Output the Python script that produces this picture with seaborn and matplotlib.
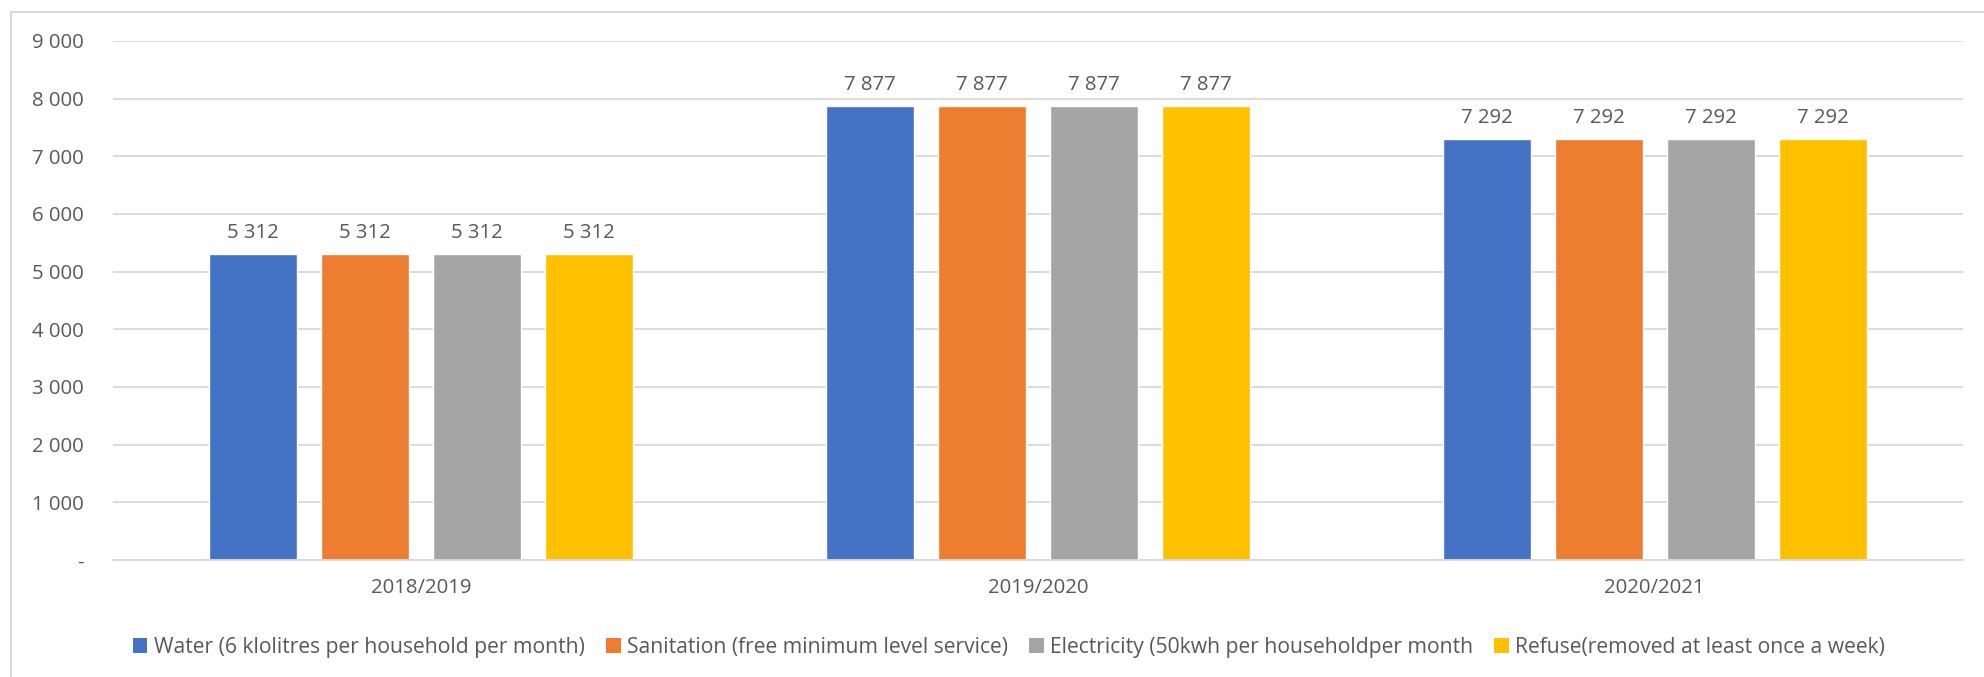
import matplotlib
matplotlib.use("Agg")
import matplotlib.pyplot as plt
import seaborn as sns
import pandas as pd
from matplotlib.patches import Patch
from matplotlib.lines import Line2D
from matplotlib.ticker import FuncFormatter, MultipleLocator

years = ["2018/2019", "2019/2020", "2020/2021"]
services = [
    "Water (6 klolitres per household per month)",
    "Sanitation (free minimum level service)",
    "Electricity (50kwh per householdper month",
    "Refuse(removed at least once a week)",
]
water = [5312, 7877, 7292]
sanitation = [5312, 7877, 7292]
electricity = [5312, 7877, 7292]
refuse = [5312, 7877, 7292]
colors = ["#4472C4", "#ED7D31", "#A5A5A5", "#FFC000"]

series = [water, sanitation, electricity, refuse]
rows = []
for name, vals in zip(services, series):
    for y, v in zip(years, vals):
        rows.append({"year": y, "service": name, "value": v})
df = pd.DataFrame(rows)

sns.set_theme(style="white")
plt.rcParams["font.family"] = ["Open Sans", "DejaVu Sans"]
TXT = "#595959"
GRID = "#d9d9d9"
FS = 14.7
LFS = 15.2

fig = plt.figure(figsize=(19.84, 6.77), dpi=100)
ax = fig.add_axes([113 / 1984, 1 - 560 / 677, (1963 - 113) / 1984, (560 - 41) / 677])

sns.barplot(data=df, x="year", y="value", hue="service", order=years,
            hue_order=services, palette=colors, width=0.7264, gap=0.214,
            saturation=1, ax=ax, legend=False)

def fmt(v):
    v = int(round(v))
    if v == 0:
        return "-"
    return f"{v:,}".replace(",", " ")

for cont in ax.containers:
    ax.bar_label(cont, labels=[fmt(b.get_height()) for b in cont],
                 padding=8, fontsize=FS, color=TXT)

ax.set_ylim(0, 9000)
ax.yaxis.set_major_locator(MultipleLocator(1000))
ax.yaxis.set_major_formatter(FuncFormatter(lambda v, p: fmt(v)))
ax.set_xlabel("")
ax.set_ylabel("")
ax.grid(axis="y", color=GRID, linewidth=1.3)
ax.set_axisbelow(True)
for s in ["top", "right", "left"]:
    ax.spines[s].set_visible(False)
ax.spines["bottom"].set_color(GRID)
ax.spines["bottom"].set_linewidth(1.3)
ax.tick_params(axis="y", length=0, pad=21, labelsize=FS, labelcolor=TXT)
ax.tick_params(axis="x", length=0, pad=13, labelsize=FS, labelcolor=TXT)

handles = [Patch(facecolor=c, edgecolor="none") for c in colors]
fig.legend(handles, services, loc="center", bbox_to_anchor=(1009 / 1984, 1 - 647 / 677),
           ncol=4, frameon=False, fontsize=LFS, labelcolor=TXT,
           handlelength=0.7, handleheight=0.7, handletextpad=0.3,
           columnspacing=1.0, borderaxespad=0)

# outer chart border (left and top visible)
fig.add_artist(Line2D([11 / 1984, 11 / 1984], [0, 1 - 12 / 677], transform=fig.transFigure,
                      color=GRID, linewidth=1.5))
fig.add_artist(Line2D([11 / 1984, 1], [1 - 12 / 677, 1 - 12 / 677], transform=fig.transFigure,
                      color=GRID, linewidth=1.5))

fig.savefig("out.png", dpi=100)
